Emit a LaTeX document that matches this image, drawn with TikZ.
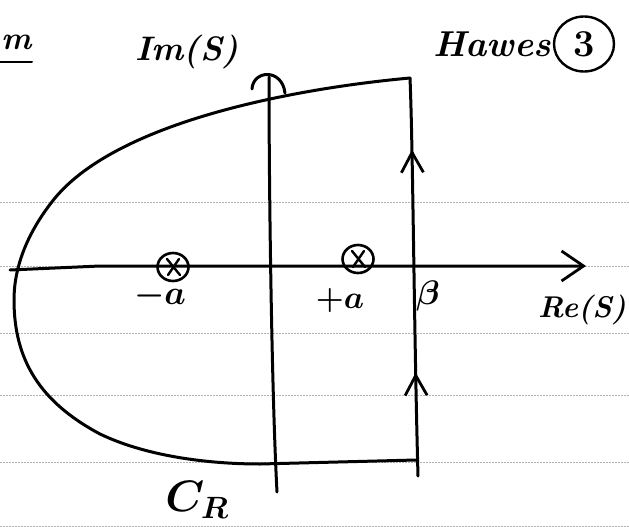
\RequirePackage{fix-cm}
\documentclass[tikz,border=0pt]{standalone}
\usetikzlibrary{arrows.meta,shapes.geometric,decorations.markings,calc}
\newcommand{\fsz}[1]{\fontsize{#1}{#1}\selectfont}
\begin{document}
\begin{tikzpicture}[x=1pt,y=-1pt,
  ink/.style={line width=3pt, line cap=round, line join=round, black},
  rule/.style={gray!60, line width=0.7pt, dash pattern=on 2pt off 1pt},
  pole/.style={draw, ellipse, line width=2.6pt, minimum width=31pt, minimum height=28pt, inner sep=0pt},
  lab/.style={inner sep=0pt, text=black},
  barb/.tip={Straight Barb[length=22pt,width=30pt,line width=2.8pt]},
  upbarb/.tip={Straight Barb[length=20pt,width=22pt,line width=2.8pt]}
]
\useasboundingbox (0,0) rectangle (629,527);
% ruled paper lines
\foreach \yy in {202,266,333,395,462,526} \draw[rule] (0,\yy) -- (629,\yy);

% real axis
\coordinate (reL) at (10,270);
\coordinate (reT) at (586,266);
\draw[ink, -{barb}] (reL) -- (100,266) -- (reT);

% poles
\node[pole] (pm) at (173,267) {};
\node[pole] (pp) at (358,259) {};
\draw[ink, line width=2.4pt] ($(pm)+(-6,-8)$) -- ($(pm)+(7,8)$) ($(pm)+(6,-8)$) -- ($(pm)+(-5,8)$);
\draw[ink, line width=2.4pt] ($(pp)+(-6,-8)$) -- ($(pp)+(7,8)$) ($(pp)+(6,-8)$) -- ($(pp)+(-5,8)$);

% imaginary axis with hat
\coordinate (imB) at (277,492);
\coordinate (imT) at (269,77);
\coordinate (hatL) at (252,89);
\coordinate (hatR) at (285,93);
\draw[ink] (imB) .. controls (272,400) and (269,200) .. (imT);
\draw[ink] (hatL) .. controls (253,70) and (282,68) .. (hatR);

% contour C_R
\coordinate (cTR) at (410,78);
\coordinate (cL) at (14,300);
\coordinate (cBR) at (416,460);
\draw[ink] (cTR) .. controls (300,88) and (120,120) .. (55,198)
  .. controls (25,235) and (14,270) .. (cL)
  .. controls (14,360) and (40,402) .. (100,434)
  .. controls (150,458) and (215,464) .. (260,464) -- (cBR);

% beta line
\coordinate (bB) at (418,476);
\draw[ink, postaction={decorate}, decoration={markings,
   mark=at position 0.26 with {\arrow{upbarb}},
   mark=at position 0.82 with {\arrow{upbarb}}}]
   (bB) .. controls (414,330) and (413,150) .. (cTR);

% labels
\node[lab, font=\fsz{34}\boldmath] (lma) at (160,296) {$-a$};
\node[lab, font=\fsz{32}\boldmath] (lpa) at (340,300) {$+a$};
\node[lab, font=\fsz{34}\boldmath] (lb) at (428,296) {$\beta$};
\node[lab, font=\fsz{30}\bfseries\itshape] (lre) at (582,310) {Re(S)};
\node[lab, font=\fsz{34}\bfseries\itshape] (lim) at (187,52) {Im(S)};
\node[lab, font=\fsz{44}\boldmath] (lcr) at (197,500) {$C_R$};
\node[lab, font=\fsz{36}\bfseries\itshape] (lhw) at (492,44) {Hawes};
\node[draw, ellipse, line width=2.4pt, minimum width=60pt, minimum height=55pt, inner sep=0pt, font=\fsz{38}\bfseries] (c3) at (584,44) {3};
\node[lab, font=\fsz{32}\bfseries\itshape, anchor=west] (lm) at (1,42) {m};
\draw[ink, line width=2pt] (0,62) -- (32,62);
\end{tikzpicture}
\end{document}
